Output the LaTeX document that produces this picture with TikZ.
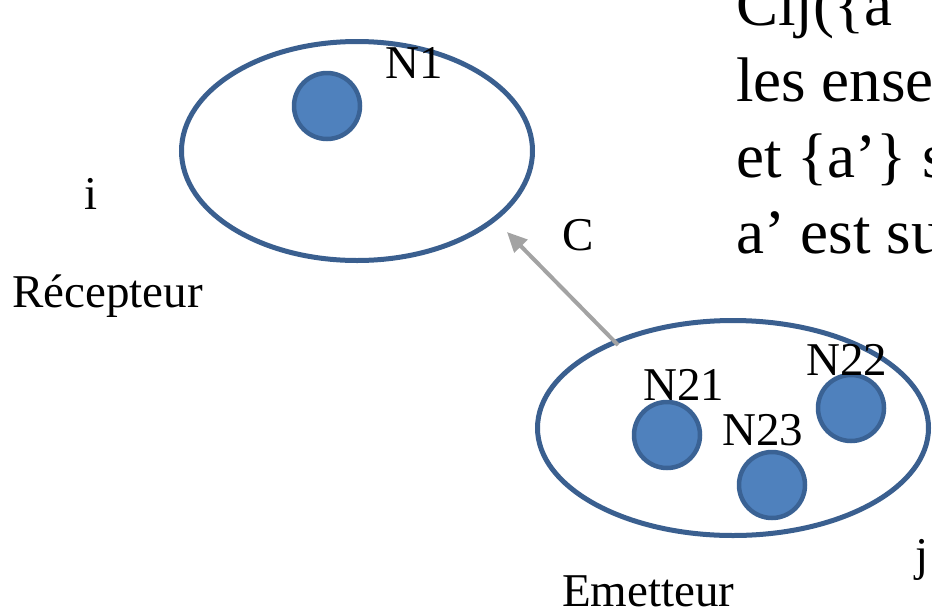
\documentclass[tikz,border=0pt]{standalone}
\usepackage{fontspec}
\setmainfont{Liberation Serif}
\usetikzlibrary{arrows.meta,shapes.geometric}

\definecolor{setblue}{RGB}{58,95,143}
\definecolor{nodeblue}{RGB}{79,129,189}
\definecolor{rimblue}{RGB}{58,98,148}
\definecolor{arrowgray}{RGB}{163,163,163}

\begin{document}
\begin{tikzpicture}[
    x=1pt, y=-1pt,
    cluster/.style={
        ellipse,
        draw=setblue,
        line width=5pt,
        fill=white,
        inner sep=0pt
    },
    member/.style={
        circle,
        draw=rimblue,
        fill=nodeblue,
        line width=4.5pt,
        minimum size=66pt,
        inner sep=0pt
    },
    lbl/.style={
        font=\fontsize{47}{50}\selectfont,
        inner sep=0pt,
        anchor=base
    },
    arrow/.style={
        -{Triangle[length=20pt,width=18pt]},
        draw=arrowgray,
        line width=4pt
    }
]
\useasboundingbox (0,0) rectangle (932,611);
\clip (0,0) rectangle (932,611);

% Receiver side
\node[cluster, minimum width=351pt, minimum height=219pt] at (357,151) (recv) {};
\node[member] at (327,106) (n1) {};
\node[lbl] at (414,78) (n1lbl) {N1};
\node[lbl] at (91,209) (ilbl) {i};
\node[lbl, anchor=base west] at (12,307) (recvlbl) {Récepteur};

% Emitter side
\node[cluster, minimum width=391pt, minimum height=215pt] at (733,428) (emit) {};
\node[member] at (667,435) (n21) {};
\node[member] at (851,408) (n22) {};
\node[member] at (772,485) (n23) {};
\node[lbl] at (684,400) (n21lbl) {N21};
\node[lbl] at (847,375) (n22lbl) {N22};
\node[lbl] at (763,445) (n23lbl) {N23};
\node[lbl] at (922,570) (jlbl) {j};
\node[lbl, anchor=base west] at (562,606) (emitlbl) {Emetteur};

% Link C
\coordinate (tail) at (618,345);
\coordinate (head) at (507,232);
\draw[arrow] (tail) -- (head);
\node[lbl] at (578,250) (clbl) {C};

% Side text (baseline of its last line)
\node[font=\fontsize{63}{76}\selectfont, align=left, inner sep=0pt, anchor=base west]
    at (736,253) (note) {Cij(\{a’ \}\\les ense\\et \{a’\} s\\a’ est su};

\end{tikzpicture}
\end{document}
